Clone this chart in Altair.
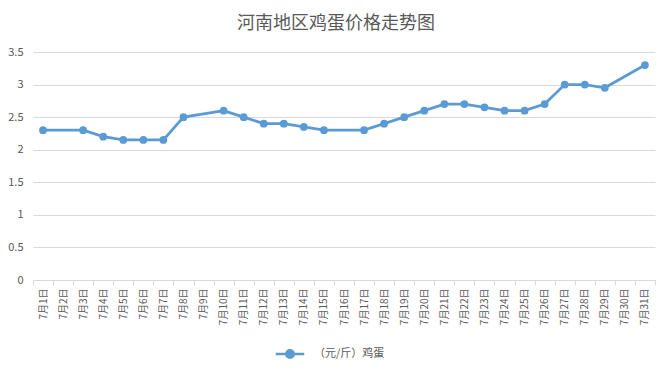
import altair as alt
import pandas as pd

days = ["7月1日", "7月2日", "7月3日", "7月4日", "7月5日", "7月6日", "7月7日", "7月8日",
        "7月9日", "7月10日", "7月11日", "7月12日", "7月13日", "7月14日", "7月15日",
        "7月16日", "7月17日", "7月18日", "7月19日", "7月20日", "7月21日", "7月22日",
        "7月23日", "7月24日", "7月25日", "7月26日", "7月27日", "7月28日", "7月29日",
        "7月30日", "7月31日"]
prices = [2.3, None, 2.3, 2.2, 2.15, 2.15, 2.15, 2.5,
          None, 2.6, 2.5, 2.4, 2.4, 2.35, 2.3,
          None, 2.3, 2.4, 2.5, 2.6, 2.7, 2.7,
          2.65, 2.6, 2.6, 2.7, 3.0, 3.0, 2.95,
          None, 3.3]
series_name = "（元/斤）鸡蛋"
y_ticks = [0, 0.5, 1, 1.5, 2, 2.5, 3, 3.5]

df = pd.DataFrame({"day": days, "price": prices})
df = df.dropna()
df["series"] = series_name

FONT = "Noto Sans CJK SC"
GRAY = "#595959"
BLUE = "#5b9bd5"

x_enc = alt.X("day:N", sort=days, bandPosition=0.5,
              scale=alt.Scale(type="band", domain=days, paddingInner=0, paddingOuter=0),
              axis=alt.Axis(title=None, labelAngle=-90, labelFontSize=10, labelColor=GRAY,
                            labelFont=FONT, tickBand="extent", domainColor="#d9d9d9",
                            tickColor="#d9d9d9", tickSize=5, grid=False, labelPadding=3))
y_enc = alt.Y("price:Q", scale=alt.Scale(domain=[0, 3.5], nice=False),
              axis=alt.Axis(title=None, values=y_ticks, format="~g", labelFontSize=11,
                            labelColor=GRAY, labelFont=FONT, domain=False, ticks=False,
                            gridColor="#d9d9d9", labelPadding=10))
color_enc = alt.Color("series:N", scale=alt.Scale(domain=[series_name], range=[BLUE]),
                      legend=alt.Legend(title=None, orient="none", legendX=246, legendY=291,
                                        symbolType="M-1.5,0H1.5M-0.4,0A0.4,0.4,0,1,1,0.4,0A0.4,0.4,0,1,1,-0.4,0Z",
                                        symbolSize=360, symbolStrokeWidth=2.5,
                                        symbolFillColor=BLUE, symbolStrokeColor=BLUE,
                                        labelFontSize=11, labelColor=GRAY, labelFont=FONT,
                                        labelOffset=13))

base = alt.Chart(df).encode(x=x_enc, y=y_enc, color=color_enc)
line = base.mark_line(strokeWidth=2.8)
pts = base.mark_point(filled=True, size=60, opacity=1)

chart = alt.layer(line, pts).properties(
    width=622, height=228,
    autosize=alt.AutoSizeParams(type="none"),
    padding={"left": 25, "top": 44, "right": 9, "bottom": 85},
    title=alt.TitleParams("河南地区鸡蛋价格走势图", fontSize=18, color=GRAY, font=FONT,
                          fontWeight="normal", anchor="middle", offset=13, dx=-8),
    background="white",
).configure_view(stroke=None)

chart.save("out.html", embed_options={"renderer": "svg", "actions": False})
